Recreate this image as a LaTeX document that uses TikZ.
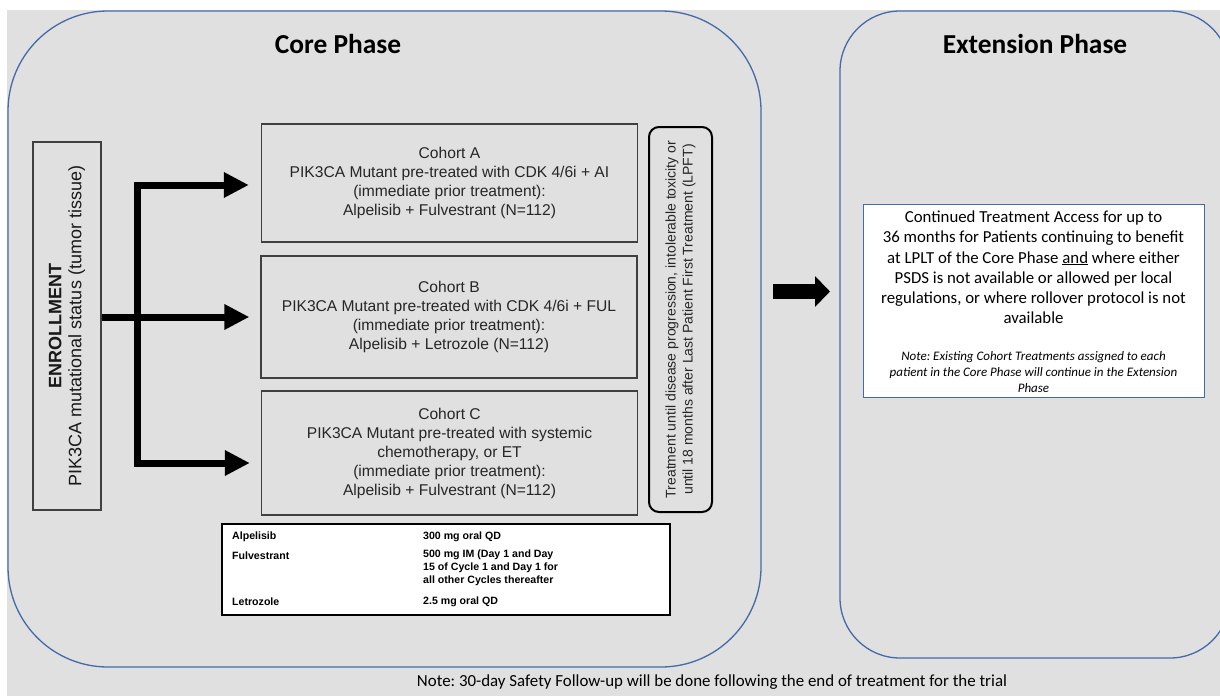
\documentclass[tikz,border=0pt]{standalone}
\usepackage{fontspec}
\setmainfont{Liberation Sans}
\newfontfamily\calfont{Carlito}
\usetikzlibrary{arrows.meta}
\definecolor{bg}{RGB}{224,224,224}
\definecolor{phaseblue}{RGB}{68,106,170}
\frenchspacing
\begin{document}
\begin{tikzpicture}[x=1pt,y=-1pt,
  phase/.style={draw=phaseblue, line width=1.3pt},
  cohort/.style={draw=black!75, line width=1.3pt, fill=bg, minimum width=376pt, align=center, inner sep=0pt, font=\fontsize{15.6}{19}\selectfont, text=black!85},
  fat/.style={line width=7pt, -{Triangle[length=25pt,width=24pt]}},
  tbl/.style={font=\fontsize{10.6}{13}\selectfont\bfseries, anchor=west, inner sep=0pt, align=left},
  title/.style={font=\calfont\bfseries\fontsize{27.4}{32}\selectfont}]
\useasboundingbox (0,0) rectangle (1220,696);
\fill[white] (0,0) rectangle (1220,696);
\begin{scope}
\clip (0,0) rectangle (1220,696);
\fill[bg] (7,10) rectangle (1220,696);
\draw[phase, rounded corners=100pt] (8,11) rectangle (761,667);
\draw[phase, rounded corners=60pt] (840,11) rectangle (1230,658);
\end{scope}

\node[title] (coretitle) at (338,44) {Core Phase};
\node[title] (exttitle) at (1035,44) {Extension Phase};

% enrollment
\node[draw=black!75, line width=1.2pt, rotate=90, minimum width=368pt, minimum height=68pt, align=center, inner sep=0pt,
  font=\fontsize{18}{20}\selectfont, text=black!90] (enroll) at (67,326)
  {\textbf{ENROLLMENT}\\PIK3CA mutational status (tumor tissue)};

% cohorts
\node[cohort, minimum height=118pt] (A) at (449.5,183)
  {Cohort A\\PIK3CA Mutant pre-treated with CDK 4/6i + AI\\(immediate prior treatment):\\Alpelisib + Fulvestrant (N=112)};
\node[cohort, minimum height=122pt] (B) at (449,317)
  {Cohort B\\PIK3CA Mutant pre-treated with CDK 4/6i + FUL\\(immediate prior treatment):\\Alpelisib + Letrozole (N=112)};
\node[cohort, minimum height=124pt] (C) at (449.5,453)
  {Cohort C\\PIK3CA Mutant pre-treated with systemic\\chemotherapy, or ET\\(immediate prior treatment):\\Alpelisib + Fulvestrant (N=112)};

% arrows
\coordinate (jt) at (137,185);
\coordinate (jb) at (137,463);
\draw[line width=7pt, line cap=rect] (jt) -- (jb);
\draw[fat, shorten >=11pt] (enroll.south |- B.west) -- (B.west);
\draw[fat, shorten >=12pt] (jt) -- (jt -| A.west);
\draw[fat, shorten >=11pt] (jb) -- (jb -| C.west);

% treatment duration
\node[draw, line width=2pt, rounded corners=10pt, rotate=90, minimum width=385pt, minimum height=63pt, align=center, inner sep=0pt,
  font=\fontsize{14}{17}\selectfont, text=black!85] (lpft) at (680.5,319.5)
  {Treatment until disease progression, intolerable toxicity or\\until 18 months after Last Patient First Treatment (LPFT)};

% dose table
\node[draw, line width=2.5pt, fill=white, minimum width=448pt, minimum height=91pt] (doses) at (446,569.5) {};
\node[tbl] (d1) at (232,537) {Alpelisib};
\node[tbl] (d2) at (232,556) {Fulvestrant};
\node[tbl] (d3) at (232,602) {Letrozole};
\node[tbl] (v1) at (423,537) {300 mg oral QD};
\node[tbl, anchor=north west] (v2) at (423,550) {500 mg IM (Day 1 and Day\\15 of Cycle 1 and Day 1 for\\all other Cycles thereafter};
\node[tbl] (v3) at (423,602) {2.5 mg oral QD};

% phase arrow
\coordinate (pa) at (773,291.5);
\coordinate (pb) at (830,291.5);
\draw[line width=15pt, -{Triangle[length=15pt,width=30pt]}] (pa) -- (pb);

% extension box
\node[draw=phaseblue, line width=1pt, fill=white, minimum width=341pt, minimum height=193pt] (ext) at (1033.5,300.5) {};
\node[font=\calfont\fontsize{16.8}{20.2}\selectfont, align=center, inner sep=0pt] (exttext) at (1033.5,267.5)
  {Continued Treatment Access for up to\\36 months for Patients continuing to benefit\\at LPLT of the Core Phase \underline{and} where either\\PSDS is not available or allowed per local\\regulations, or where rollover protocol is not\\available};
\node[font=\calfont\itshape\fontsize{13}{16}\selectfont, align=center, inner sep=0pt] (extnote) at (1033.5,372)
  {Note: Existing Cohort Treatments assigned to each\\patient in the Core Phase will continue in the Extension\\Phase};

% bottom note
\node[font=\calfont\fontsize{16.9}{20}\selectfont, inner sep=0pt] (note) at (712,682)
  {Note: 30-day Safety Follow-up will be done following the end of treatment for the trial};
\end{tikzpicture}
\end{document}
